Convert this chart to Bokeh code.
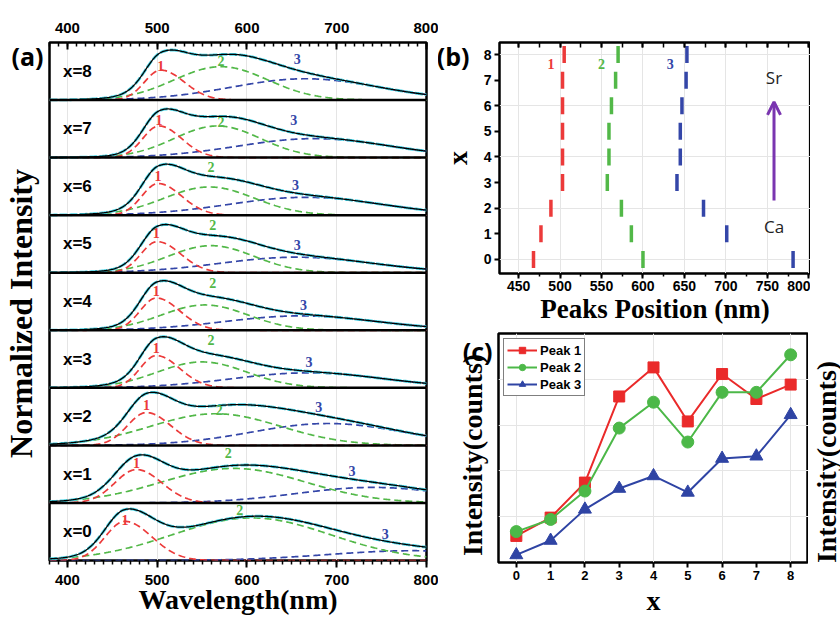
import numpy as np
from bokeh.plotting import figure
from bokeh.models import (ColumnDataSource, Range1d, LinearAxis, FixedTicker,
                          Arrow, OpenHead, Legend, LegendItem, Span, CustomJSTickFormatter)
from bokeh.layouts import row, column
from bokeh.embed import file_html
from bokeh.resources import INLINE
from bokeh.core.properties import value

# ---------------- data ----------------
x_values = [0, 1, 2, 3, 4, 5, 6, 7, 8]
x_labels = ["x=0", "x=1", "x=2", "x=3", "x=4", "x=5", "x=6", "x=7", "x=8"]

# (a) fitted components for x = 0..8: centre (nm), normalised amplitude, widths (nm)
p1_center = [464, 477, 488, 499, 499, 500, 501, 502, 504]
p1_amp    = [0.68, 0.58, 0.57, 0.56, 0.56, 0.54, 0.55, 0.55, 0.52]
p1_wleft  = [22, 24, 21, 18, 18, 18, 18, 18, 18]
p1_wright = [30, 28, 27, 26, 26, 26, 26, 25, 26]
p2_center = [605, 585, 565, 550, 553, 560, 558, 567, 571]
p2_amp    = [0.74, 0.60, 0.55, 0.45, 0.44, 0.47, 0.49, 0.55, 0.58]
p2_width  = [88, 80, 72, 50, 48, 48, 50, 48, 52]
p3_center = [785, 740, 690, 668, 660, 655, 665, 675, 665]
p3_amp    = [0.17, 0.27, 0.38, 0.26, 0.25, 0.27, 0.31, 0.33, 0.37]
p3_width  = [95, 85, 85, 85, 85, 85, 85, 85, 82]

# (a) peak-number annotations (nm, fraction of the sub-panel height)
lab1_x = [464, 477, 488, 499, 499, 499, 501, 502, 504]
lab1_y = [0.71, 0.70, 0.70, 0.70, 0.69, 0.69, 0.68, 0.65, 0.59]
lab2_x = [592, 579, 569, 560, 562, 562, 560, 571, 571]
lab2_y = [0.88, 0.87, 0.61, 0.83, 0.82, 0.83, 0.84, 0.62, 0.68]
lab3_x = [754, 717, 680, 669, 663, 656, 654, 652, 656]
lab3_y = [0.46, 0.55, 0.66, 0.45, 0.44, 0.49, 0.53, 0.65, 0.72]

# (b) peak positions (nm)
peak1_pos = [468, 477, 489, 503, 503, 503, 503, 503, 505]
peak2_pos = [600, 586, 574, 557, 559, 559, 562, 567, 570]
peak3_pos = [781, 701, 673, 641, 645, 645, 647, 652, 653]

# (c) intensities (arbitrary counts)
peak1_int = [11.6, 19.6, 34.9, 72.5, 85.2, 61.6, 82.3, 71.4, 77.7]
peak2_int = [13.5, 18.8, 31.2, 58.7, 70.0, 52.6, 74.3, 74.3, 90.7]
peak3_int = [3.3, 9.6, 23.2, 32.3, 37.8, 30.6, 45.4, 46.4, 64.5]

wl_ticks = [400, 500, 600, 700, 800]
pos_ticks = [450, 500, 550, 600, 650, 700, 750, 800]

RED, GREEN, BLUE = "#ec3a3a", "#52b848", "#3446a8"
CRED, CGREEN, CBLUE = "#ea2a2a", "#4cb848", "#2f44a4"
PURPLE = "#7a35b0"
SANS = "Liberation Sans"
SERIF = "Liberation Serif"
NB = "\u00a0"


def style_axis(ax, tick_size, label_size):
    ax.axis_line_color = None
    ax.major_tick_line_color = "black"
    ax.major_tick_line_width = 2
    ax.minor_tick_line_color = "black"
    ax.minor_tick_line_width = 1.5
    ax.major_label_text_font = SANS
    ax.major_label_text_font_style = "bold"
    ax.major_label_text_font_size = tick_size
    ax.major_label_text_color = "black"
    ax.axis_label_text_font = SERIF
    ax.axis_label_text_font_style = "bold"
    ax.axis_label_text_font_size = label_size
    ax.axis_label_text_color = "black"


def panel_letter_axis(tick, letter, label, label_size, standoff, label_standoff):
    """A left axis whose only tick label is the panel letter."""
    ax = LinearAxis(ticker=FixedTicker(ticks=[tick]),
                    formatter=CustomJSTickFormatter(code="return '%s'" % letter),
                    axis_label=label)
    style_axis(ax, "25px", label_size)
    ax.major_label_text_font = "Open Sans"
    ax.major_tick_line_color = None
    ax.major_tick_in, ax.major_tick_out = 0, 0
    ax.minor_tick_line_color = None
    ax.major_label_standoff = standoff
    ax.axis_label_standoff = label_standoff
    return ax


def base_fig(**kw):
    f = figure(title=None, output_backend="svg", toolbar_location=None,
               x_axis_location=None, y_axis_location=None, **kw)
    f.outline_line_color = "black"
    f.outline_line_width = 2.5
    f.background_fill_color = "white"
    f.border_fill_color = "white"
    return f


# ---------------- panel (a) ----------------
pa = base_fig(width=438, height=618, x_range=Range1d(380, 800), y_range=Range1d(0, 9),
              min_border_left=49, min_border_right=12, min_border_top=42, min_border_bottom=58)

ax = LinearAxis(ticker=FixedTicker(ticks=wl_ticks, minor_ticks=list(range(380, 801, 10))))
style_axis(ax, "15px", "28px")
ax.major_tick_in, ax.major_tick_out = 7, 0
ax.minor_tick_in, ax.minor_tick_out = 4, 0
ax.major_label_standoff = 10
pa.add_layout(ax, "above")

ax = LinearAxis(ticker=FixedTicker(ticks=wl_ticks, minor_ticks=list(range(380, 801, 10))),
                axis_label="Wavelength(nm)")
style_axis(ax, "15px", "28px")
ax.major_tick_in, ax.major_tick_out = 0, 7
ax.minor_tick_in, ax.minor_tick_out = 0, 4
ax.major_label_standoff = 7
ax.axis_label_standoff = -4
pa.add_layout(ax, "below")

pa.add_layout(panel_letter_axis(8.77, "(a)", "Normalized Intensity" + NB * 3, "32px", 6, -31),
              "left")

wl = np.arange(380, 801, 1.0)
for k in x_values:
    w1 = np.where(wl < p1_center[k], p1_wleft[k], p1_wright[k])
    g1 = p1_amp[k] * np.exp(-(wl - p1_center[k]) ** 2 / (2 * w1 ** 2))
    g2 = p2_amp[k] * np.exp(-(wl - p2_center[k]) ** 2 / (2 * p2_width[k] ** 2))
    g3 = p3_amp[k] * np.exp(-(wl - p3_center[k]) ** 2 / (2 * p3_width[k] ** 2))
    total = g1 + g2 + g3
    src = ColumnDataSource(dict(x=wl, g1=g1 + k, g2=g2 + k, g3=g3 + k, t=total + k))
    pa.line("x", "g3", source=src, line_color=BLUE, line_width=1.7, line_dash="7 4")
    pa.line("x", "g2", source=src, line_color=GREEN, line_width=1.7, line_dash="7 4")
    pa.line("x", "g1", source=src, line_color=RED, line_width=1.7, line_dash="7 4")
    pa.line("x", "t", source=src, line_color="#44d2e4", line_width=2.8, line_dash="8 2")
    pa.line("x", "t", source=src, line_color="black", line_width=1.3)

for k in x_values[1:]:
    pa.add_layout(Span(location=k, dimension="width", line_color="black", line_width=2.5))

pa.text(x=[395] * 9, y=[k + 0.5 for k in x_values], text=x_labels,
        text_font=value(SANS), text_font_style="bold", text_font_size="17px",
        text_color="black", text_align="left", text_baseline="middle")
for lx, ly, lab, col in [(lab1_x, lab1_y, "1", RED), (lab2_x, lab2_y, "2", GREEN),
                         (lab3_x, lab3_y, "3", BLUE)]:
    pa.text(x=lx, y=[k + f for k, f in zip(x_values, ly)], text=[lab] * 9,
            text_font=value(SERIF), text_font_style="bold", text_font_size="14px",
            text_color=col, text_align="center", text_baseline="middle")

# ---------------- panel (b) ----------------
pb = base_fig(width=372, height=326, x_range=Range1d(427, 802), y_range=Range1d(-0.55, 8.47),
              min_border_left=60, min_border_right=0, min_border_top=42, min_border_bottom=53)

ax = LinearAxis(ticker=FixedTicker(ticks=pos_ticks, minor_ticks=list(range(425, 801, 25))),
                axis_label="Peaks Position (nm)")
style_axis(ax, "14px", "27px")
ax.major_tick_in, ax.major_tick_out = 0, 5
ax.minor_tick_in, ax.minor_tick_out = 0, 3
ax.major_label_standoff = 2
ax.axis_label_standoff = 0
pb.add_layout(ax, "below")

ax = LinearAxis(ticker=FixedTicker(ticks=pos_ticks, minor_ticks=list(range(425, 801, 25))))
style_axis(ax, "14px", "27px")
ax.major_tick_in, ax.major_tick_out = 5, 0
ax.minor_tick_in, ax.minor_tick_out = 5, 0
ax.major_label_text_color = None
pb.add_layout(ax, "above")

ax = LinearAxis(ticker=FixedTicker(ticks=x_values))
style_axis(ax, "14px", "28px")
ax.major_tick_in, ax.major_tick_out = 0, 5
ax.major_label_standoff = 3
pb.add_layout(ax, "left")
pb.add_layout(panel_letter_axis(7.96, "(b)", "x", "28px", 11, -39), "left")

for pos, col in [(peak1_pos, RED), (peak2_pos, GREEN), (peak3_pos, BLUE)]:
    pb.scatter(x=pos, y=x_values, marker="dash", angle=np.pi / 2, size=17,
               line_color=col, line_width=3.5)

pb.text(x=[489, 550, 633], y=[7.65] * 3, text=["1", "2", "3"],
        text_font=value(SERIF), text_font_style="bold", text_font_size="14px",
        text_color=[RED, GREEN, BLUE], text_align="center", text_baseline="middle")
pb.text(x=[758, 758], y=[7.1, 1.3], text=["Sr", "Ca"], text_font=value("Open Sans"),
        text_font_size="17px", text_color="#222222", text_align="center", text_baseline="middle")
pb.add_layout(Arrow(x_start=758, y_start=2.3, x_end=758, y_end=6.15,
                    line_color=PURPLE, line_width=3,
                    end=OpenHead(size=13, line_width=3, line_color=PURPLE)))

# ---------------- panel (c) ----------------
pc = base_fig(width=370, height=292, x_range=Range1d(-0.52, 8.52), y_range=Range1d(0, 100),
              min_border_left=60, min_border_right=0, min_border_top=7, min_border_bottom=55)

ax = LinearAxis(ticker=FixedTicker(ticks=x_values), axis_label="x")
style_axis(ax, "13px", "28px")
ax.major_tick_in, ax.major_tick_out = 0, 5
ax.major_label_standoff = 3
ax.axis_label_standoff = 2
pc.add_layout(ax, "below")

pc.add_layout(panel_letter_axis(99.0, "(c)", "Intensity(counts)" + NB * 2, "28px", 6, -28),
              "left")

src_c = ColumnDataSource(dict(x=x_values, p1=peak1_int, p2=peak2_int, p3=peak3_int))
items = []
for col_name, col, marker, size, lab in [("p1", CRED, "square", 11, "Peak 1"),
                                         ("p2", CGREEN, "circle", 12, "Peak 2"),
                                         ("p3", CBLUE, "triangle", 13, "Peak 3")]:
    r1 = pc.line("x", col_name, source=src_c, line_color=col, line_width=2)
    r2 = pc.scatter("x", col_name, source=src_c, marker=marker, size=size,
                    fill_color=col, line_color=col)
    items.append(LegendItem(label=lab, renderers=[r1, r2]))

leg = Legend(items=items, location="top_left")
leg.label_text_font = SANS
leg.label_text_font_style = "bold"
leg.label_text_font_size = "13px"
leg.label_text_color = "black"
leg.glyph_width = 30
leg.glyph_height = 16
leg.label_standoff = 3
leg.label_height = 14
leg.spacing = 1
leg.padding = 3
leg.margin = 5
leg.border_line_color = "black"
leg.border_line_width = 1
leg.background_fill_alpha = 1
pc.add_layout(leg)

# right-hand copy of the intensity label (same reading direction as the left one)
pr = base_fig(width=32, height=292, x_range=Range1d(0, 1), y_range=Range1d(0, 100),
              min_border_left=30, min_border_right=0, min_border_top=7, min_border_bottom=55)
pr.outline_line_color = None
ax = LinearAxis(ticker=FixedTicker(ticks=[]), axis_label="Intensity(counts)" + NB * 4)
style_axis(ax, "12px", "28px")
ax.axis_label_standoff = -1
pr.add_layout(ax, "left")

layout = row(pa, column(pb, row(pc, pr)))
open("out.html", "w").write(file_html(layout, INLINE))
